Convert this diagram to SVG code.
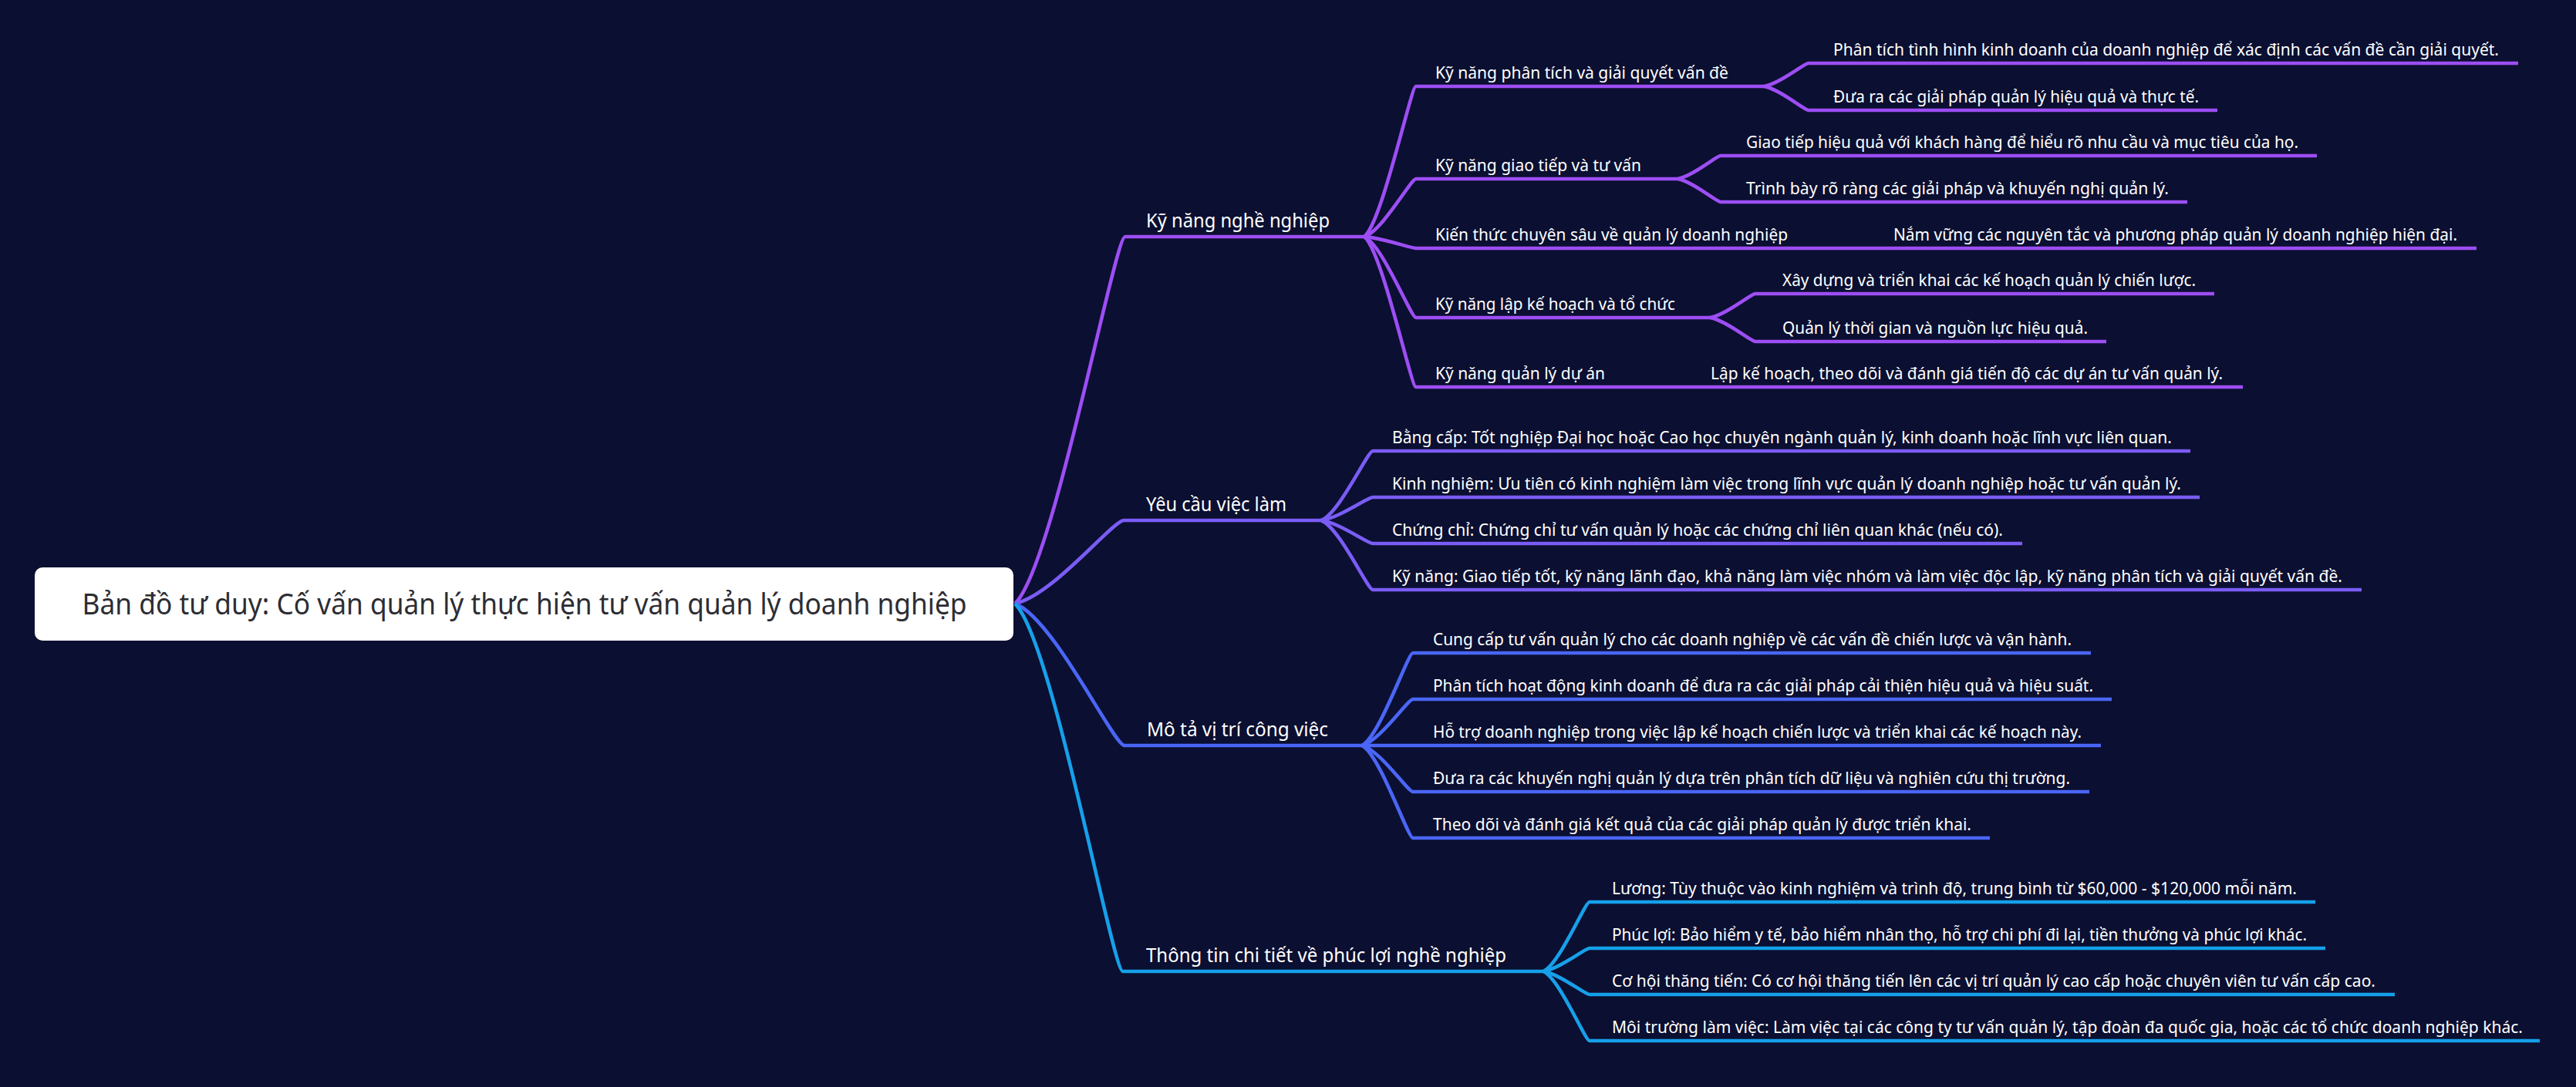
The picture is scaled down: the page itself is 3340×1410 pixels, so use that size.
<svg xmlns="http://www.w3.org/2000/svg" width="3340" height="1410" viewBox="0 0 3340 1410">
<style>
.c{fill:none;stroke-width:4.6;stroke-linecap:butt;stroke-linejoin:round}
.b1{stroke:#9d4ef4}.b2{stroke:#7a5cf5}.b3{stroke:#4a66f6}.b4{stroke:#16a0ea}
text{font-family:"Noto Sans","Open Sans","Liberation Sans",sans-serif;fill:#ffffff}
.l1{font-size:25px}.l2{font-size:21px}
.root{font-size:38px;fill:#2d2d33}
</style>
<rect x="0" y="0" width="3340" height="1410" fill="#0b0f31"/>
<g id="connectors">
<path class="c b1" d="M1316 783C1366 735.4 1444.7 307 1459 307H1769"/>
<path class="c b2" d="M1316 783C1365.4 772.2 1442.9 675 1457 675H1713"/>
<path class="c b3" d="M1316 783C1365.7 801.4 1443.8 967 1458 967H1766"/>
<path class="c b4" d="M1316 783C1365 830.7 1442 1260 1456 1260H2001"/>
<path class="c b1" d="M1769 307C1792.5 287.5 1829.3 112 1836 112H2287"/>
<path class="c b1" d="M1769 307C1792.5 299.5 1829.3 232 1836 232H2175"/>
<path class="c b1" d="M1769 307C1792.5 308.5 1829.3 322 1836 322H3211"/>
<path class="c b1" d="M1769 307C1792.5 317.5 1829.3 412 1836 412H2217"/>
<path class="c b1" d="M1769 307C1792.5 326.5 1829.3 502 1836 502H2908"/>
<path class="c b1" d="M2287 112C2307.3 109 2339.2 82 2345 82H3265"/>
<path class="c b1" d="M2287 112C2307.3 115.1 2339.2 143 2345 143H2875"/>
<path class="c b1" d="M2175 232C2194.6 229 2225.4 202 2231 202H3004"/>
<path class="c b1" d="M2175 232C2194.6 235 2225.4 262 2231 262H2836"/>
<path class="c b1" d="M2217 412C2237.7 408.9 2270.1 381 2276 381H2871"/>
<path class="c b1" d="M2217 412C2237.7 415.1 2270.1 443 2276 443H2731"/>
<path class="c b2" d="M1713 675C1736.5 666 1773.3 585 1780 585H2840"/>
<path class="c b2" d="M1713 675C1736.5 672 1773.3 645 1780 645H2852"/>
<path class="c b2" d="M1713 675C1736.5 678 1773.3 705 1780 705H2622"/>
<path class="c b2" d="M1713 675C1736.5 684 1773.3 765 1780 765H3062"/>
<path class="c b3" d="M1766 967C1789.1 955 1825.4 847 1832 847H2711"/>
<path class="c b3" d="M1766 967C1789.1 961 1825.4 907 1832 907H2738"/>
<path class="c b3" d="M1766 967H2724"/>
<path class="c b3" d="M1766 967C1789.1 973 1825.4 1027 1832 1027H2709"/>
<path class="c b3" d="M1766 967C1789.1 979 1825.4 1087 1832 1087H2580"/>
<path class="c b4" d="M2001 1260C2022 1251 2055 1170 2061 1170H3002"/>
<path class="c b4" d="M2001 1260C2022 1257 2055 1230 2061 1230H3015"/>
<path class="c b4" d="M2001 1260C2022 1263 2055 1290 2061 1290H3105"/>
<path class="c b4" d="M2001 1260C2022 1269 2055 1350 2061 1350H3293"/>
</g>
<g id="root">
<rect x="45" y="736" width="1269" height="95" rx="10" fill="#ffffff"/>
<text class="root" x="680" y="797" text-anchor="middle" textLength="1147" lengthAdjust="spacingAndGlyphs">Bản đồ tư duy: Cố vấn quản lý thực hiện tư vấn quản lý doanh nghiệp</text>
</g>
<g id="n1"><text class="l1" x="1486" y="295" textLength="238" lengthAdjust="spacingAndGlyphs">Kỹ năng nghề nghiệp</text></g>
<g id="n1-1"><text class="l2" x="1861" y="102" textLength="380" lengthAdjust="spacingAndGlyphs">Kỹ năng phân tích và giải quyết vấn đề</text></g>
<g id="n1-1-1"><text class="l2" x="2377" y="72" textLength="863" lengthAdjust="spacingAndGlyphs">Phân tích tình hình kinh doanh của doanh nghiệp để xác định các vấn đề cần giải quyết.</text></g>
<g id="n1-1-2"><text class="l2" x="2377" y="133" textLength="474" lengthAdjust="spacingAndGlyphs">Đưa ra các giải pháp quản lý hiệu quả và thực tế.</text></g>
<g id="n1-2"><text class="l2" x="1861" y="222" textLength="267" lengthAdjust="spacingAndGlyphs">Kỹ năng giao tiếp và tư vấn</text></g>
<g id="n1-2-1"><text class="l2" x="2264" y="192" textLength="716" lengthAdjust="spacingAndGlyphs">Giao tiếp hiệu quả với khách hàng để hiểu rõ nhu cầu và mục tiêu của họ.</text></g>
<g id="n1-2-2"><text class="l2" x="2264" y="252" textLength="548" lengthAdjust="spacingAndGlyphs">Trình bày rõ ràng các giải pháp và khuyến nghị quản lý.</text></g>
<g id="n1-3"><text class="l2" x="1861" y="312" textLength="457" lengthAdjust="spacingAndGlyphs">Kiến thức chuyên sâu về quản lý doanh nghiệp</text></g>
<g id="n1-3-1"><text class="l2" x="2455" y="312" textLength="731" lengthAdjust="spacingAndGlyphs">Nắm vững các nguyên tắc và phương pháp quản lý doanh nghiệp hiện đại.</text></g>
<g id="n1-4"><text class="l2" x="1861" y="402" textLength="311" lengthAdjust="spacingAndGlyphs">Kỹ năng lập kế hoạch và tổ chức</text></g>
<g id="n1-4-1"><text class="l2" x="2311" y="371" textLength="536" lengthAdjust="spacingAndGlyphs">Xây dựng và triển khai các kế hoạch quản lý chiến lược.</text></g>
<g id="n1-4-2"><text class="l2" x="2311" y="433" textLength="396" lengthAdjust="spacingAndGlyphs">Quản lý thời gian và nguồn lực hiệu quả.</text></g>
<g id="n1-5"><text class="l2" x="1861" y="492" textLength="220" lengthAdjust="spacingAndGlyphs">Kỹ năng quản lý dự án</text></g>
<g id="n1-5-1"><text class="l2" x="2218" y="492" textLength="664" lengthAdjust="spacingAndGlyphs">Lập kế hoạch, theo dõi và đánh giá tiến độ các dự án tư vấn quản lý.</text></g>
<g id="n2"><text class="l1" x="1486" y="663" textLength="182" lengthAdjust="spacingAndGlyphs">Yêu cầu việc làm</text></g>
<g id="n2-1"><text class="l2" x="1805" y="575" textLength="1011" lengthAdjust="spacingAndGlyphs">Bằng cấp: Tốt nghiệp Đại học hoặc Cao học chuyên ngành quản lý, kinh doanh hoặc lĩnh vực liên quan.</text></g>
<g id="n2-2"><text class="l2" x="1805" y="635" textLength="1023" lengthAdjust="spacingAndGlyphs">Kinh nghiệm: Ưu tiên có kinh nghiệm làm việc trong lĩnh vực quản lý doanh nghiệp hoặc tư vấn quản lý.</text></g>
<g id="n2-3"><text class="l2" x="1805" y="695" textLength="792" lengthAdjust="spacingAndGlyphs">Chứng chỉ: Chứng chỉ tư vấn quản lý hoặc các chứng chỉ liên quan khác (nếu có).</text></g>
<g id="n2-4"><text class="l2" x="1805" y="755" textLength="1232" lengthAdjust="spacingAndGlyphs">Kỹ năng: Giao tiếp tốt, kỹ năng lãnh đạo, khả năng làm việc nhóm và làm việc độc lập, kỹ năng phân tích và giải quyết vấn đề.</text></g>
<g id="n3"><text class="l1" x="1487" y="955" textLength="235" lengthAdjust="spacingAndGlyphs">Mô tả vị trí công việc</text></g>
<g id="n3-1"><text class="l2" x="1858" y="837" textLength="828" lengthAdjust="spacingAndGlyphs">Cung cấp tư vấn quản lý cho các doanh nghiệp về các vấn đề chiến lược và vận hành.</text></g>
<g id="n3-2"><text class="l2" x="1858" y="897" textLength="856" lengthAdjust="spacingAndGlyphs">Phân tích hoạt động kinh doanh để đưa ra các giải pháp cải thiện hiệu quả và hiệu suất.</text></g>
<g id="n3-3"><text class="l2" x="1858" y="957" textLength="841" lengthAdjust="spacingAndGlyphs">Hỗ trợ doanh nghiệp trong việc lập kế hoạch chiến lược và triển khai các kế hoạch này.</text></g>
<g id="n3-4"><text class="l2" x="1858" y="1017" textLength="826" lengthAdjust="spacingAndGlyphs">Đưa ra các khuyến nghị quản lý dựa trên phân tích dữ liệu và nghiên cứu thị trường.</text></g>
<g id="n3-5"><text class="l2" x="1858" y="1077" textLength="698" lengthAdjust="spacingAndGlyphs">Theo dõi và đánh giá kết quả của các giải pháp quản lý được triển khai.</text></g>
<g id="n4"><text class="l1" x="1486" y="1248" textLength="467" lengthAdjust="spacingAndGlyphs">Thông tin chi tiết về phúc lợi nghề nghiệp</text></g>
<g id="n4-1"><text class="l2" x="2090" y="1160" textLength="888" lengthAdjust="spacingAndGlyphs">Lương: Tùy thuộc vào kinh nghiệm và trình độ, trung bình từ $60,000 - $120,000 mỗi năm.</text></g>
<g id="n4-2"><text class="l2" x="2090" y="1220" textLength="901" lengthAdjust="spacingAndGlyphs">Phúc lợi: Bảo hiểm y tế, bảo hiểm nhân thọ, hỗ trợ chi phí đi lại, tiền thưởng và phúc lợi khác.</text></g>
<g id="n4-3"><text class="l2" x="2090" y="1280" textLength="990" lengthAdjust="spacingAndGlyphs">Cơ hội thăng tiến: Có cơ hội thăng tiến lên các vị trí quản lý cao cấp hoặc chuyên viên tư vấn cấp cao.</text></g>
<g id="n4-4"><text class="l2" x="2090" y="1340" textLength="1181" lengthAdjust="spacingAndGlyphs">Môi trường làm việc: Làm việc tại các công ty tư vấn quản lý, tập đoàn đa quốc gia, hoặc các tổ chức doanh nghiệp khác.</text></g>
</svg>
